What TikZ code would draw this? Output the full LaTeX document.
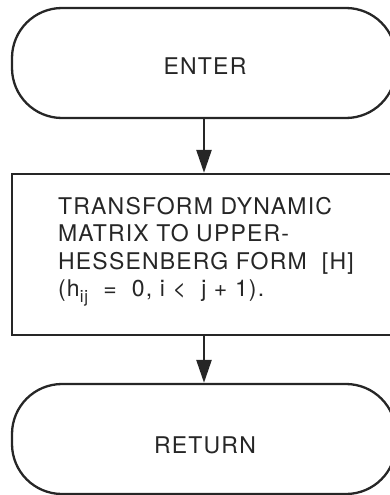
\documentclass[tikz,border=0pt]{standalone}
\usepackage{fontspec}
\setmainfont{TeX Gyre Heros}
\newfontfamily\lblfont[LetterSpace=5.2]{TeX Gyre Heros}
\usetikzlibrary{arrows.meta}
\begin{document}
\begin{tikzpicture}[x=1pt,y=1pt,
  every node/.style={line width=2.3pt,draw=black!85},
  term/.style={rounded corners=50pt,minimum width=384pt,minimum height=110pt,inner sep=0pt},
  procbox/.style={minimum width=384pt,minimum height=161pt,inner sep=0pt},
  lbl/.style={draw=none,font=\lblfont\fontsize{23}{27.5}\selectfont,text=black!85},
  flow/.style={line width=2.5pt,draw=black!85,-{Triangle[length=23pt,width=15pt]}}]
\useasboundingbox (0,0) rectangle (390,-495);
\node[term] (enter) at (204,-63) {};
\node[lbl] (entert) at (205,-66) {ENTER};
\node[procbox] (proc) at (204,-254.5) {};
\node[lbl,anchor=north west,align=left,inner sep=0pt] (proct) at (57,-196)
  {TRANSFORM DYNAMIC\\MATRIX TO UPPER-\\HESSENBERG FORM\ \ [H]\\(h\raisebox{-6pt}{\fontsize{17}{17}\selectfont ij}\ \ =\ \ 0, i <\ \ j + 1).};
\node[term] (ret) at (204,-439) {};
\node[lbl] (rett) at (205,-445) {RETURN};
\draw[flow] (enter.south) -- (proc.north);
\draw[flow] (proc.south) -- (ret.north);
\end{tikzpicture}
\end{document}
